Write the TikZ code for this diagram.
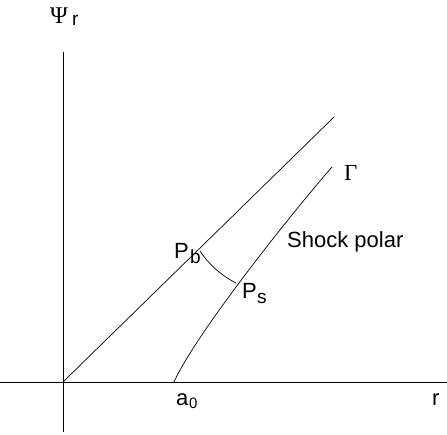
\documentclass[tikz,border=0pt]{standalone}
\usepackage{fontspec}
\setmainfont{Liberation Sans}
\newfontfamily\serifgr{Liberation Serif}
\begin{document}
\begin{tikzpicture}[x=1pt,y=-1pt,
  axis/.style={line width=0.8pt},
  curveline/.style={line width=0.7pt},
  lbl/.style={inner sep=0pt,anchor=base west,font=\fontsize{22}{26}\selectfont},
  sublbl/.style={inner sep=0pt,anchor=base west,font=\fontsize{19}{22}\selectfont},
  smallsub/.style={inner sep=0pt,anchor=base west,font=\fontsize{15}{18}\selectfont}]
\useasboundingbox (0,0) rectangle (447,434);
% axes
\coordinate (vtop) at (63,52);
\coordinate (vbot) at (63,432);
\coordinate (hl) at (0,382);
\coordinate (hr) at (447,382);
\coordinate (O) at (63,382);
\draw[axis] (vtop) -- (vbot);
\draw[axis] (hl) -- (hr);
% straight line
\coordinate (Lend) at (334,117);
\draw[curveline] (O) -- (Lend);
% shock polar
\coordinate (A0) at (174,382);
\coordinate (G) at (332,167);
\draw[curveline] (A0) .. controls (195,335) and (290,215) .. (G);
% arc Pb - Ps
\coordinate (Pb) at (200,251);
\coordinate (Ps) at (236,283);
\draw[curveline] (Pb) .. controls (207,262) and (220,275) .. (Ps);
% labels
\node[lbl,font=\serifgr\fontsize{24}{28}\selectfont] (psi) at (50,23) {Ψ};
\node[sublbl] (psir) at (72,25) {r};
\node[lbl] (pbP) at (174,258) {P};
\node[sublbl] (pbb) at (190,263) {b};
\node[lbl] (psP) at (242,298) {P};
\node[sublbl] (pss) at (257,303) {s};
\node[lbl] (shock) at (287,247) {Shock polar};
\node[lbl,font=\serifgr\fontsize{23}{26}\selectfont] (gam) at (344,180) {Γ};
\node[lbl] (a) at (176,405) {a};
\node[smallsub] (a0) at (189,408) {0};
\node[lbl] (r) at (432,405) {r};
\end{tikzpicture}
\end{document}
